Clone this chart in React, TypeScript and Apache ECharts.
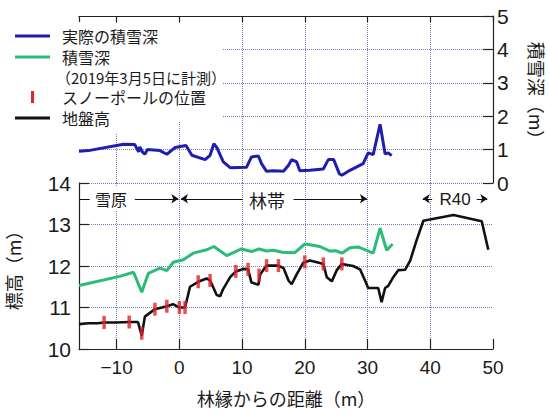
import React, { useEffect, useRef } from 'react';
import * as echarts from 'echarts';

// ---- data ----
// distance from forest edge (m) and ground elevation (m)
const groundX = [-16, -14.5, -13, -12, -10, -8, -6.6, -6.0, -5.5, -3.9, -2.0, -1.0, -0.3, 0, 0.9, 1.7, 3.0, 4.35, 4.9, 5.5, 5.95, 6.5, 7.0, 8.1, 9.0, 10.2, 10.95, 11.5, 12.6, 12.9, 13.9, 15.8, 16.6, 17.4, 17.9, 18.7, 19.76, 20.8, 22.4, 22.95, 23.5, 24.3, 25.1, 25.9, 27.7, 28.8, 29.6, 30.1, 31.7, 32.24, 32.8, 33.3, 34.1, 34.9, 36.0, 36.8, 37.8, 38.9, 43.7, 48.2, 49.25];
const groundY = [10.6, 10.62, 10.62, 10.64, 10.64, 10.65, 10.65, 10.32, 10.78, 10.96, 11.03, 11.08, 11.02, 11.0, 11.0, 11.5, 11.62, 11.7, 11.65, 11.45, 11.3, 11.27, 11.45, 11.73, 11.87, 11.93, 11.92, 11.6, 11.55, 11.8, 12.01, 12.01, 11.95, 11.65, 11.56, 11.8, 12.08, 12.13, 12.07, 12.05, 11.73, 11.63, 11.9, 12.05, 12.0, 11.92, 11.65, 11.47, 11.47, 11.13, 11.47, 11.52, 11.73, 11.9, 11.91, 12.13, 12.61, 13.09, 13.23, 13.08, 12.39];

// snow surface elevation (m), measured 2019-03-05
const snowX = [-16, -9.5, -7.3, -6.0, -4.95, -3.1, -2.0, -0.96, 0.63, 2.2, 4.35, 5.5, 7.55, 9.9, 11.5, 12.7, 13.9, 15.0, 16.4, 18.4, 20.0, 20.8, 22.4, 24.0, 24.9, 25.9, 27.2, 28.5, 30.9, 32.0, 33.05, 34.0];
const snowY = [11.53, 11.75, 11.85, 11.37, 11.82, 11.95, 11.89, 12.09, 12.15, 12.31, 12.39, 12.47, 12.25, 12.41, 12.35, 12.41, 12.36, 12.38, 12.33, 12.32, 12.53, 12.51, 12.47, 12.36, 12.37, 12.31, 12.44, 12.46, 12.31, 12.91, 12.38, 12.53];

// actual snow depth (m)
const depthX = [-16, -14.5, -8.9, -7.1, -6.5, -6.3, -5.9, -5.5, -5.1, -3.1, -2.0, -0.7, 1.06, 2.0, 4.1, 4.9, 5.5, 6.0, 7.0, 8.1, 10.7, 11.5, 12.6, 13.1, 13.9, 15.0, 16.6, 17.4, 17.9, 18.7, 19.2, 20.8, 22.95, 23.75, 24.6, 25.5, 25.9, 27.2, 29.3, 30.1, 30.9, 32.0, 32.8, 33.3, 33.85];
const depthY = [0.95, 0.97, 1.16, 1.15, 0.93, 1.08, 0.93, 0.86, 1.0, 0.97, 0.86, 1.06, 1.12, 0.83, 0.70, 0.83, 1.18, 1.05, 0.63, 0.46, 0.47, 0.78, 0.81, 0.58, 0.35, 0.37, 0.35, 0.53, 0.70, 0.63, 0.37, 0.38, 0.42, 0.70, 0.70, 0.28, 0.23, 0.38, 0.58, 0.90, 0.85, 1.76, 0.87, 0.90, 0.82];

// snow pole positions (distance, ground elevation)
const poleX = [-12, -8, -6, -3.9, -2, 0, 0.9, 3.0, 4.9, 9.0, 10.95, 12.7, 13.9, 15.8, 20, 22.95, 25.9];
const poleY = [10.64, 10.65, 10.38, 10.96, 11.03, 11.0, 11.0, 11.62, 11.65, 11.87, 11.92, 11.78, 12.01, 12.01, 12.1, 12.05, 12.05];

// axis settings
const distMin = -16;
const distMax = 50;
const depthMin = 0;
const depthMax = 5;
const elevMin = 10;
const elevMax = 14;

// zone annotation row (elevation value where arrows sit): [from, to, arrowhead]
const zoneRowY = 13.62;
const zoneArrows: [number, number, boolean][] = [
  [-16, -14.3, false],
  [-7.1, -0.15, true],
  [10.1, 0.25, true],
  [18.2, 29.9, true],
  [40.3, 38.8, true],
  [47.4, 49.1, true],
];

const legendLabels = ['実際の積雪深', '積雪深', '（2019年3月5日に計測）', 'スノーポールの位置', '地盤高'];
const depthTitle = '積雪深（m）';

const zip = (xs: number[], ys: number[]) => xs.map((x, i) => [x, ys[i]]);

const NUM_FONT = '"Liberation Sans", Arial, sans-serif';
const JP_FONT = '"Noto Sans CJK JP", "Noto Sans", sans-serif';
const TXT = '#1a1a1a';
const BLUE = '#1e1eb2';
const GREEN = '#2cbc78';
const RED = '#e0242a';
const gridLine = { lineStyle: { color: '#7c7cbc', type: 'dotted', width: 1 } };
const axisLine = { show: true, onZero: false, lineStyle: { color: '#222', width: 1.2 } };
const tick = { show: true, inside: true, length: 10, lineStyle: { color: '#222', width: 1.2 } };

const fmtDist = (v: number) => (v % 10 !== 0 ? '' : v < 0 ? '\u2212' + -v : String(v));

function buildOption(): any {
  return {
    animation: false,
    backgroundColor: '#fff',
    grid: [
      { left: 79, right: 57, top: 16, height: 167, containLabel: false, outerBoundsMode: 'none' },
      { left: 79, right: 57, top: 183, height: 166, containLabel: false, outerBoundsMode: 'none' },
    ],
    xAxis: [
      {
        gridIndex: 0, type: 'value', min: distMin, max: distMax, minInterval: 10, maxInterval: 10,
        position: 'top',
        axisLine, axisTick: { ...tick, length: 6 }, axisLabel: { show: false },
        splitLine: { show: true, showMinLine: false, showMaxLine: false, ...gridLine },
      },
      {
        gridIndex: 1, type: 'value', min: distMin, max: distMax, minInterval: 10, maxInterval: 10,
        position: 'bottom',
        axisLine, axisTick: tick,
        axisLabel: { fontFamily: NUM_FONT, fontSize: 19, color: TXT, margin: 9, formatter: fmtDist, showMinLabel: false },
        splitLine: { show: true, showMinLine: false, showMaxLine: false, ...gridLine },
        name: '林縁からの距離（m）', nameLocation: 'middle', nameGap: 40,
        nameTextStyle: { fontFamily: JP_FONT, fontSize: 18, color: TXT },
      },
    ],
    yAxis: [
      {
        gridIndex: 0, type: 'value', min: depthMin, max: depthMax, interval: 1, position: 'right',
        axisLine, axisTick: tick,
        axisLabel: { fontFamily: NUM_FONT, fontSize: 21, color: TXT, margin: 4 },
        splitLine: { show: true, showMinLine: false, showMaxLine: false, ...gridLine },
      },
      {
        gridIndex: 1, type: 'value', min: elevMin, max: elevMax, interval: 1, position: 'left',
        axisLine, axisTick: tick,
        axisLabel: { fontFamily: NUM_FONT, fontSize: 21, color: TXT, margin: 8 },
        splitLine: { show: true, showMinLine: false, showMaxLine: true, ...gridLine },
        name: '標高（m）', nameLocation: 'middle', nameGap: 57,
        nameTextStyle: { fontFamily: JP_FONT, fontSize: 18, color: TXT },
      },
    ],
    series: [
      {
        name: '実際の積雪深', type: 'line', xAxisIndex: 0, yAxisIndex: 0,
        data: zip(depthX, depthY), showSymbol: false, symbol: 'none',
        lineStyle: { color: BLUE, width: 3 }, z: 5,
      },
      {
        name: '積雪深', type: 'line', xAxisIndex: 1, yAxisIndex: 1,
        data: zip(snowX, snowY), showSymbol: false, symbol: 'none',
        lineStyle: { color: GREEN, width: 3 }, z: 5,
      },
      {
        name: '地盤高', type: 'line', xAxisIndex: 1, yAxisIndex: 1,
        data: zip(groundX, groundY), showSymbol: false, symbol: 'none',
        lineStyle: { color: '#111', width: 2.6 }, z: 6,
        markLine: {
          silent: true, animation: false, symbolSize: 7,
          label: { show: false },
          lineStyle: { color: '#111', width: 1, type: 'solid' },
          emphasis: { disabled: true },
          data: zoneArrows.map(([a, b, arrow]) => [
            { coord: [a, zoneRowY], symbol: 'none' },
            { coord: [b, zoneRowY], symbol: arrow ? 'arrow' : 'none' },
          ]),
        },
      },
      {
        name: 'スノーポールの位置', type: 'scatter', xAxisIndex: 1, yAxisIndex: 1,
        data: zip(poleX, poleY), symbol: 'rect', symbolSize: [3.5, 13],
        itemStyle: { color: RED }, z: 7,
      },
    ],
    graphic: [
      { type: 'rect', shape: { x: 0, y: 24, width: 222, height: 97 }, style: { fill: '#fff' }, z: 50 },
      { type: 'rect', shape: { x: 0, y: 121, width: 150, height: 13 }, style: { fill: '#fff' }, z: 50 },
      { type: 'line', shape: { x1: 15, y1: 36, x2: 50, y2: 36 }, style: { stroke: BLUE, lineWidth: 3 }, z: 60 },
      { type: 'text', x: 62, y: 36, style: { text: legendLabels[0], font: `16px ${JP_FONT}`, lineHeight: 18, fill: TXT, verticalAlign: 'middle' }, z: 60 },
      { type: 'line', shape: { x1: 15, y1: 57, x2: 50, y2: 57 }, style: { stroke: GREEN, lineWidth: 3 }, z: 60 },
      { type: 'text', x: 62, y: 57, style: { text: legendLabels[1], font: `16px ${JP_FONT}`, lineHeight: 18, fill: TXT, verticalAlign: 'middle' }, z: 60 },
      { type: 'text', x: 56, y: 77, style: { text: legendLabels[2], font: `15px ${JP_FONT}`, lineHeight: 17, fill: TXT, verticalAlign: 'middle' }, z: 60 },
      { type: 'line', shape: { x1: 32.5, y1: 91, x2: 32.5, y2: 103 }, style: { stroke: RED, lineWidth: 3 }, z: 60 },
      { type: 'text', x: 62, y: 97, style: { text: legendLabels[3], font: `16px ${JP_FONT}`, lineHeight: 18, fill: TXT, verticalAlign: 'middle' }, z: 60 },
      { type: 'line', shape: { x1: 15, y1: 118, x2: 50, y2: 118 }, style: { stroke: '#111', lineWidth: 3 }, z: 60 },
      { type: 'text', x: 62, y: 118, style: { text: legendLabels[4], font: `16px ${JP_FONT}`, lineHeight: 18, fill: TXT, verticalAlign: 'middle' }, z: 60 },
      { type: 'text', x: 111, y: 199, style: { text: '雪原', font: `16px ${JP_FONT}`, fill: TXT, align: 'center', verticalAlign: 'middle', backgroundColor: '#fff', padding: [4, 3] }, z: 60 },
      { type: 'text', x: 267, y: 200, style: { text: '林帯', font: `18px ${JP_FONT}`, fill: TXT, align: 'center', verticalAlign: 'middle', backgroundColor: '#fff', padding: [6, 6] }, z: 60 },
      { type: 'text', x: 455, y: 199, style: { text: 'R40', font: `17px ${NUM_FONT}`, fill: TXT, align: 'center', verticalAlign: 'middle' }, z: 60 },
      { type: 'text', x: 537, y: 95, rotation: -Math.PI / 2, style: { text: depthTitle, font: `18px ${JP_FONT}`, fill: TXT, align: 'center', verticalAlign: 'middle' }, z: 60 },
    ],
  };
}

export default function App() {
  const ref = useRef<HTMLDivElement>(null);
  useEffect(() => {
    if (!ref.current) return;
    const chart = echarts.init(ref.current, null, { renderer: 'svg' });
    chart.setOption(buildOption());
    return () => chart.dispose();
  }, []);
  return (
    <div
      ref={ref}
      style={{ position: 'fixed', left: 0, top: 0, width: 550, height: 414, background: '#fff' }}
    />
  );
}
